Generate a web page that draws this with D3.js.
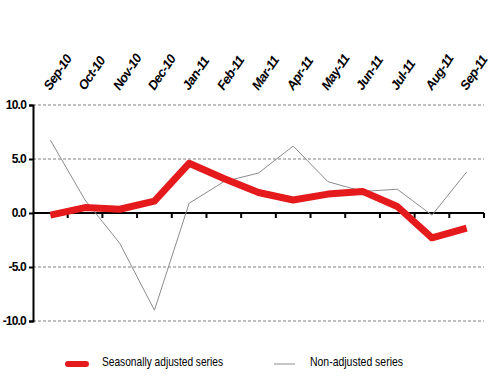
<!DOCTYPE html>
<html>
<head>
<meta charset="utf-8">
<script src="https://cdn.jsdelivr.net/npm/d3@7"></script>
<style>
  body { margin: 0; background: #fff; }
  svg text { font-family: "Liberation Sans Narrow", "Liberation Sans", sans-serif; }
</style>
</head>
<body>
<div id="chart"></div>
<script>
var width = 500,
    height = 384;

var months = ['Sep-10','Oct-10','Nov-10','Dec-10','Jan-11','Feb-11','Mar-11',
              'Apr-11','May-11','Jun-11','Jul-11','Aug-11','Sep-11'];
var seasonal = [-0.2, 0.5, 0.35, 1.1, 4.6, 3.2, 1.9, 1.2, 1.75, 2.0, 0.6, -2.3, -1.4];
var raw = [6.75, 1.2, -2.8, -9.0, 0.9, 2.9, 3.7, 6.2, 2.9, 2.0, 2.2, -0.2, 3.8];
var yTicks = [-10, -5, 0, 5, 10];
var legendLabels = ['Seasonally adjusted series', 'Non-adjusted series'];

var svg = d3.select('#chart').append('svg')
  .attr('width', width)
  .attr('height', height);

var x = d3.scaleBand().domain(months).range([33, 484]).padding(0);
var y = d3.scaleLinear().domain([-10, 10]).range([321, 105]);

// dashed gridlines
svg.selectAll('.grid')
  .data(yTicks.filter(d => d !== 0))
  .enter().append('line')
  .attr('x1', 33).attr('x2', 484)
  .attr('y1', d => y(d)).attr('y2', d => y(d))
  .attr('stroke', '#808080')
  .attr('stroke-width', 1)
  .attr('stroke-dasharray', '3,2');

// y axis
var yAxis = svg.append('g')
  .attr('transform', 'translate(33,0)')
  .call(d3.axisLeft(y).tickValues(yTicks).tickSize(4).tickFormat(d => d.toFixed(1)));
yAxis.select('.domain').attr('stroke', '#000').attr('stroke-width', 2);
yAxis.selectAll('.tick line').attr('stroke', '#000').attr('stroke-width', 2);
yAxis.selectAll('.tick text')
  .attr('x', -7)
  .style('font-size', '12px')
  .style('font-weight', 'bold')
  .style('letter-spacing', '-0.8px')
  .attr('fill', '#000');

// x axis at zero
svg.append('line')
  .attr('x1', 33).attr('x2', 484)
  .attr('y1', y(0)).attr('y2', y(0))
  .attr('stroke', '#000')
  .attr('stroke-width', 2);

svg.selectAll('.xtick')
  .data(months)
  .enter().append('line')
  .attr('x1', d => x(d) + x.bandwidth())
  .attr('x2', d => x(d) + x.bandwidth())
  .attr('y1', y(0)).attr('y2', y(0) + 5)
  .attr('stroke', '#000')
  .attr('stroke-width', 2);

// month labels, slanted at the top
svg.selectAll('.month-label')
  .data(months)
  .enter().append('text')
  .attr('class', 'month-label')
  .attr('transform', d => 'translate(' + (x(d) + x.bandwidth() / 2) + ',91) rotate(-56)')
  .attr('text-anchor', 'start')
  .style('font-size', '13px')
  .style('font-weight', 'bold')
  .style('font-style', 'italic')
  .style('letter-spacing', '-0.6px')
  .text(d => d);

var line = d3.line()
  .x((d, i) => x(months[i]) + x.bandwidth() / 2)
  .y(d => y(d));

svg.append('path')
  .datum(raw)
  .attr('d', line)
  .attr('fill', 'none')
  .attr('stroke', '#8c8c8c')
  .attr('stroke-width', 1);

svg.append('path')
  .datum(seasonal)
  .attr('d', line)
  .attr('fill', 'none')
  .attr('stroke', '#e41a1c')
  .attr('stroke-width', 7)
  .attr('stroke-linejoin', 'round');

// legend
svg.append('line')
  .attr('x1', 68).attr('x2', 86)
  .attr('y1', 364).attr('y2', 364)
  .attr('stroke', '#e41a1c')
  .attr('stroke-width', 6)
  .attr('stroke-linecap', 'round');
svg.append('text')
  .attr('x', 102).attr('y', 366)
  .attr('textLength', 121)
  .attr('lengthAdjust', 'spacingAndGlyphs')
  .style('font-size', '13px')
  .text(legendLabels[0]);

svg.append('line')
  .attr('x1', 274).attr('x2', 295)
  .attr('y1', 364).attr('y2', 364)
  .attr('stroke', '#8c8c8c')
  .attr('stroke-width', 1);
svg.append('text')
  .attr('x', 310).attr('y', 366)
  .attr('textLength', 93)
  .attr('lengthAdjust', 'spacingAndGlyphs')
  .style('font-size', '13px')
  .text(legendLabels[1]);
</script>
</body>
</html>
